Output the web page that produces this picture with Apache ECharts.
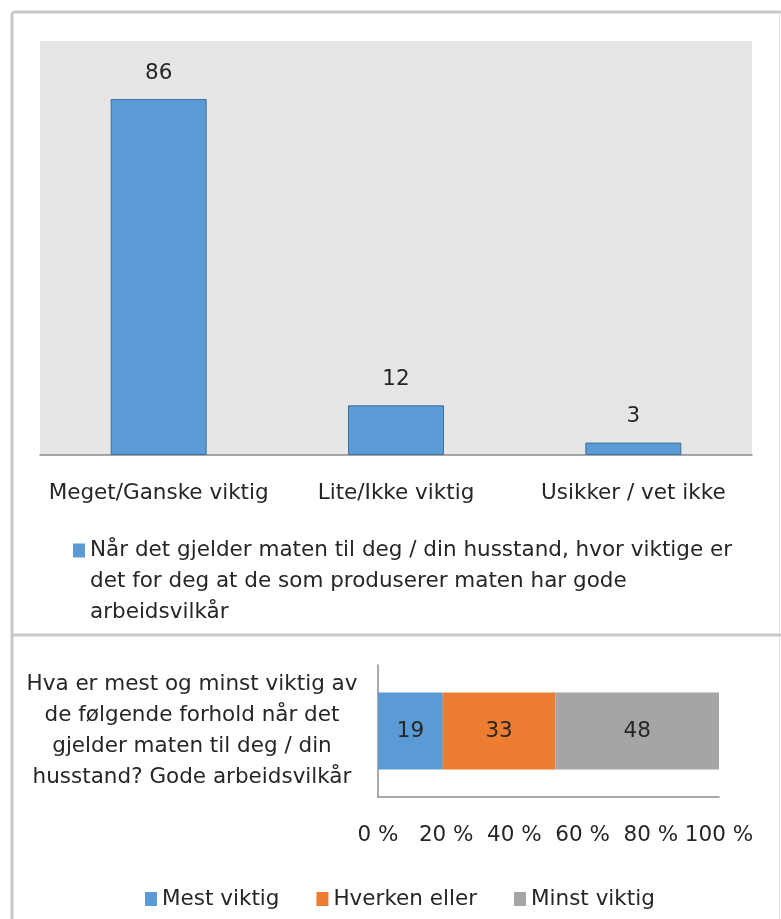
<!DOCTYPE html>
<html>
<head>
<meta charset="utf-8">
<script src="https://cdn.jsdelivr.net/npm/echarts@6/dist/echarts.min.js"></script>
<style>
  html, body { margin: 0; padding: 0; background: #fff; }
  #main { width: 781px; height: 919px; }
</style>
</head>
<body>
<div id="main"></div>
<script>
// top chart: importance of good working conditions
const topCategories = ['Meget/Ganske viktig', 'Lite/Ikke viktig', 'Usikker / vet ikke'];
const topValues = [86, 12, 3];
const topSeriesName = 'Når det gjelder maten til deg / din husstand, hvor viktige er det for deg at de som produserer maten har gode arbeidsvilkår';
const topLegendLines = ['Når det gjelder maten til deg / din husstand, hvor viktige er', 'det for deg at de som produserer maten har gode', 'arbeidsvilkår'];

// bottom chart: most / least important (percent)
const bottomQuestionLines = ['Hva er mest og minst viktig av', 'de følgende forhold når det', 'gjelder maten til deg / din', 'husstand? Gode arbeidsvilkår'];
const bottomNames = ['Mest viktig', 'Hverken eller', 'Minst viktig'];
const bottomValues = [19, 33, 48];
const bottomColors = ['#5b9bd5', '#ed7d31', '#a5a5a5'];

const font = 'DejaVu Sans';
const fs = 21.5;
const txt = '#262626';
const chart = echarts.init(document.getElementById('main'));

const bottomCat = bottomQuestionLines.join('\n');

const option = {
  backgroundColor: '#fff',
  textStyle: { fontFamily: font },
  animation: false,
  graphic: [
    { type: 'rect', shape: { x: 12, y: 12, width: 800, height: 940, r: 3 }, style: { fill: 'none', stroke: '#c8c8c8', lineWidth: 3 }, z: -1 },
    { type: 'line', shape: { x1: 779.5, y1: 14, x2: 779.5, y2: 919 }, style: { stroke: '#e0e0e0', lineWidth: 1 }, z: -1 },
    { type: 'line', shape: { x1: 12, y1: 635, x2: 781, y2: 635 }, style: { stroke: '#c8c8c8', lineWidth: 3 }, z: -1 }
  ],
  legend: [
    {
      data: [topSeriesName],
      left: 68, top: 468,
      itemWidth: 12, itemHeight: 14,
      icon: 'rect',
      itemStyle: { borderWidth: 0 },
      // two empty lines first so the icon sits on the first text line
      formatter: () => '\n\n' + topLegendLines.join('\n'),
      textStyle: { fontFamily: font, fontSize: fs, color: txt, lineHeight: 31 }
    },
    {
      data: bottomNames,
      left: 140, top: 883,
      itemWidth: 12, itemHeight: 14, itemGap: 37,
      icon: 'rect',
      textStyle: { fontFamily: font, fontSize: fs, color: txt }
    }
  ],
  grid: [
    { left: 40, top: 41, width: 712, height: 414, show: true, backgroundColor: '#e6e6e6', borderWidth: 0 },
    { left: 378, top: 665, width: 341, height: 132 }
  ],
  xAxis: [
    {
      gridIndex: 0, type: 'category', data: topCategories,
      axisLine: { lineStyle: { color: '#8c8c8c', width: 1.5 } },
      axisTick: { show: false },
      axisLabel: { fontFamily: font, fontSize: fs, color: txt, margin: 27, interval: 0 }
    },
    {
      gridIndex: 1, type: 'value', min: 0, max: 100, interval: 20,
      axisLine: { show: true, lineStyle: { color: '#8c8c8c', width: 1.5 } },
      axisTick: { show: false },
      splitLine: { show: false },
      axisLabel: { fontFamily: font, fontSize: fs, color: txt, margin: 27, formatter: '{value} %' }
    }
  ],
  yAxis: [
    { gridIndex: 0, type: 'value', min: 0, max: 100, show: false },
    {
      gridIndex: 1, type: 'category', data: [bottomCat],
      axisLine: { show: true, lineStyle: { color: '#8c8c8c', width: 1.5 } },
      axisTick: { show: false },
      axisLabel: { fontFamily: font, fontSize: fs, color: txt, align: 'center', margin: 186, lineHeight: 31 }
    }
  ],
  series: [
    {
      name: topSeriesName, type: 'bar', xAxisIndex: 0, yAxisIndex: 0,
      data: topValues, barWidth: 96,
      itemStyle: { color: '#5b9bd5', borderColor: '#41719c', borderWidth: 1 },
      label: { show: true, position: 'top', distance: 15, fontFamily: font, fontSize: fs, color: txt }
    }
  ].concat(bottomNames.map((n, i) => ({
    name: n, type: 'bar', stack: 'total', xAxisIndex: 1, yAxisIndex: 1,
    data: [bottomValues[i]], barWidth: 77,
    itemStyle: { color: bottomColors[i] },
    label: { show: true, position: 'inside', fontFamily: font, fontSize: fs, color: txt }
  })))
};

chart.setOption(option);
</script>
</body>
</html>
